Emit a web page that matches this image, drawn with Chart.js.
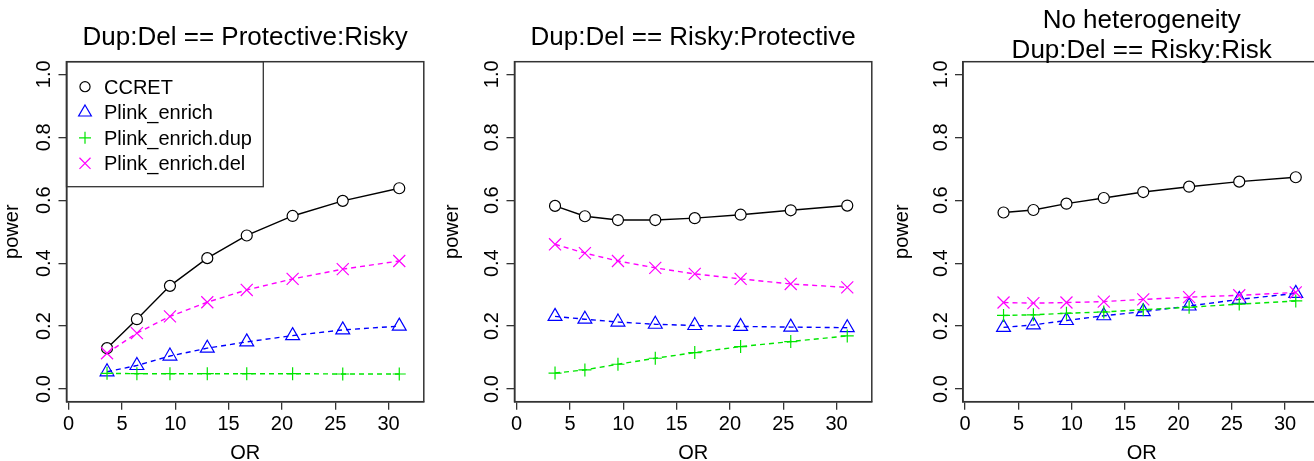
<!DOCTYPE html>
<html><head><meta charset="utf-8">
<script src="https://cdn.jsdelivr.net/npm/chart.js@4.4.0/dist/chart.umd.min.js"></script>
<style>
html,body{margin:0;padding:0;background:#fff;overflow:hidden;width:1314px;height:461px;position:relative;}
canvas{position:absolute;top:0;}
</style></head><body>
<canvas id="c1" width="440" height="461" style="left:0px"></canvas>
<canvas id="c2" width="450" height="461" style="left:440px"></canvas>
<canvas id="c3" width="450" height="461" style="left:890px"></canvas>
<script>
// ---- data ----
const OR = [3.6, 6.4, 9.5, 13, 16.7, 21, 25.7, 31];
const seriesNames = ['CCRET', 'Plink_enrich', 'Plink_enrich.dup', 'Plink_enrich.del'];
const yTicks = [0, 0.2, 0.4, 0.6, 0.8, 1.0];
const xTicks = [0, 5, 10, 15, 20, 25, 30];

// Panel 1: Dup:Del == Protective:Risky
const ccret1  = [0.130, 0.222, 0.328, 0.416, 0.488, 0.550, 0.598, 0.638];
const enrich1 = [0.055, 0.075, 0.105, 0.130, 0.150, 0.170, 0.188, 0.200];
const dup1    = [0.050, 0.049, 0.049, 0.049, 0.049, 0.049, 0.048, 0.048];
const del1    = [0.114, 0.178, 0.231, 0.276, 0.315, 0.350, 0.381, 0.407];
// Panel 2: Dup:Del == Risky:Protective
const ccret2  = [0.582, 0.549, 0.537, 0.537, 0.543, 0.554, 0.568, 0.583];
const enrich2 = [0.231, 0.222, 0.213, 0.206, 0.202, 0.199, 0.197, 0.195];
const dup2    = [0.051, 0.061, 0.079, 0.098, 0.116, 0.135, 0.151, 0.169];
const del2    = [0.460, 0.432, 0.407, 0.385, 0.366, 0.350, 0.334, 0.323];
// Panel 3: No heterogeneity, Dup:Del == Risky:Risk
const ccret3  = [0.561, 0.569, 0.589, 0.607, 0.626, 0.643, 0.659, 0.673];
const enrich3 = [0.196, 0.204, 0.218, 0.233, 0.246, 0.264, 0.285, 0.304];
const dup3    = [0.234, 0.236, 0.241, 0.245, 0.252, 0.260, 0.270, 0.280];
const del3    = [0.275, 0.273, 0.275, 0.278, 0.285, 0.292, 0.298, 0.307];

const title1 = ['Dup:Del == Protective:Risky'];
const title2 = ['Dup:Del == Risky:Protective'];
const title3 = ['No heterogeneity', 'Dup:Del == Risky:Risk'];

// ---- styling ----
const FONT = '"Liberation Sans", Arial, Helvetica, sans-serif';
const styles = [
  {color: '#000000', dash: [], pointStyle: 'circle', radius: 5.5, bg: '#ffffff', order: 4},
  {color: '#0000ff', dash: [5, 4], pointStyle: 'triangle', radius: 8, bg: 'rgba(0,0,0,0)', order: 3},
  {color: '#00e600', dash: [5, 4], pointStyle: 'cross', radius: 6.5, bg: 'rgba(0,0,0,0)', order: 2},
  {color: '#ff00ff', dash: [5, 4], pointStyle: 'crossRot', radius: 8.5, bg: 'rgba(0,0,0,0)', order: 1}
];

const CH = 461, TOP = 61.7, BOTTOM = 401.7;

function drawSym(ctx, st, x, y) {
  ctx.save();
  ctx.strokeStyle = st.color;
  ctx.fillStyle = st.bg;
  ctx.lineWidth = 1.2;
  ctx.setLineDash([]);
  if (Chart.helpers && Chart.helpers.drawPoint) {
    Chart.helpers.drawPoint(ctx, {pointStyle: st.pointStyle, radius: st.radius * 0.92, rotation: 0, borderWidth: 1.2}, x, y);
  }
  ctx.restore();
}

const rPlugin = {
  id: 'rstyle',
  afterDraw(chart) {
    const ctx = chart.ctx, a = chart.chartArea;
    const o = chart.options.plugins.rstyle;
    const ys = chart.scales.y;
    ctx.save();
    // box
    ctx.strokeStyle = '#333333';
    ctx.lineWidth = 1.5;
    ctx.strokeRect(a.left, a.top, a.right - a.left, a.bottom - a.top);
    ctx.fillStyle = '#000';
    // titles
    ctx.font = '26px ' + FONT;
    ctx.textAlign = 'center';
    ctx.textBaseline = 'alphabetic';
    const cx = (a.left + a.right) / 2;
    const bl = o.title.length === 1 ? [45] : [28.3, 58.3];
    o.title.forEach((t, i) => ctx.fillText(t, cx, bl[i]));
    // x axis title
    ctx.font = '20px ' + FONT;
    ctx.fillText('OR', cx, 458.5);
    // y tick labels (rotated, R style)
    ys.ticks.forEach(tk => {
      const y = ys.getPixelForValue(tk.value);
      ctx.save();
      ctx.translate(a.left - 16.5, y);
      ctx.rotate(-Math.PI / 2);
      ctx.textAlign = 'center';
      ctx.fillText(tk.value.toFixed(1), 0, 0);
      ctx.restore();
    });
    // y axis title
    ctx.save();
    ctx.translate(18, (a.top + a.bottom) / 2);
    ctx.rotate(-Math.PI / 2);
    ctx.textAlign = 'center';
    ctx.fillText('power', 0, 0);
    ctx.restore();
    // legend
    if (o.legend) {
      ctx.strokeStyle = '#333333';
      ctx.lineWidth = 1.3;
      ctx.strokeRect(a.left, a.top, 263.3 - a.left, 186.7 - a.top);
      const rows = [86.7, 112.3, 137.8, 163.3];
      ctx.textAlign = 'left';
      ctx.font = '20px ' + FONT;
      seriesNames.forEach((n, i) => {
        drawSym(ctx, styles[i], 85, rows[i]);
        ctx.fillStyle = '#000';
        ctx.fillText(n, 104, rows[i] + 6.8);
      });
    }
    ctx.restore();
  }
};

function makeChart(id, series, title, legend, leftPx, rightPad) {
  const datasets = series.map((vals, i) => ({
    label: seriesNames[i],
    data: OR.map((x, j) => ({x: x, y: vals[j]})),
    borderColor: styles[i].color,
    borderWidth: 1.4,
    borderDash: styles[i].dash,
    pointStyle: styles[i].pointStyle,
    pointRadius: styles[i].radius,
    pointBorderWidth: 1.2,
    pointBorderColor: styles[i].color,
    pointBackgroundColor: styles[i].bg,
    tension: 0,
    fill: false,
    order: styles[i].order
  }));
  return new Chart(document.getElementById(id), {
    type: 'line',
    data: {datasets},
    plugins: [rPlugin],
    options: {
      responsive: false,
      animation: false,
      events: [],
      layout: {padding: {left: 0, top: TOP, right: rightPad, bottom: 0}},
      plugins: {legend: {display: false}, tooltip: {enabled: false}, rstyle: {title, legend}},
      scales: {
        x: {
          type: 'linear', min: -0.2, max: 33.3,
          afterFit: s => { s.height = CH - BOTTOM; },
          afterBuildTicks: s => { s.ticks = xTicks.map(v => ({value: v})); },
          ticks: {stepSize: 5, includeBounds: false, color: '#000', font: {size: 20, family: FONT}, padding: 2.5, maxRotation: 0, autoSkip: false},
          grid: {drawOnChartArea: false, drawTicks: true, tickLength: 8, color: '#333333', lineWidth: 1.3},
          border: {display: true, color: '#333333', width: 1.5}
        },
        y: {
          type: 'linear', min: -0.04, max: 1.04,
          afterFit: s => { s.width = leftPx; },
          afterBuildTicks: s => { s.ticks = yTicks.map(v => ({value: v})); },
          ticks: {stepSize: 0.2, includeBounds: false, display: false},
          grid: {drawOnChartArea: false, drawTicks: true, tickLength: 8, color: '#333333', lineWidth: 1.3},
          border: {display: true, color: '#333333', width: 1.5}
        }
      }
    }
  });
}

makeChart('c1', [ccret1, enrich1, dup1, del1], title1, true, 66.5, 440 - 423.8);
makeChart('c2', [ccret2, enrich2, dup2, del2], title2, false, 74.5, 450 - 431.8);
makeChart('c3', [ccret3, enrich3, dup3, del3], title3, false, 73, 450 - 430.3);
</script>
</body></html>
